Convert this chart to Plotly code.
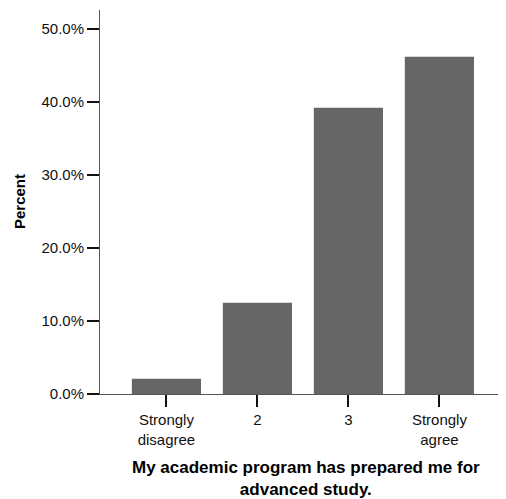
import plotly.graph_objects as go

categories = ["Strongly<br>disagree", "2", "3", "Strongly<br>agree"]
percent = [2.1, 12.5, 39.2, 46.2]
y_ticks = [0, 10, 20, 30, 40, 50]
y_tick_labels = ["0.0%", "10.0%", "20.0%", "30.0%", "40.0%", "50.0%"]
x_title = "My academic program has prepared me for<br>advanced study."
y_title = "Percent"

fig = go.Figure(go.Bar(
    x=categories, y=percent,
    marker=dict(color="#666666", line=dict(width=0)),
    width=0.76,
))

# page body has an 8px default margin, so the figure is offset by 8px
font = "Liberation Sans, Arial, sans-serif"
fig.update_layout(
    width=498, height=491,
    margin=dict(l=92, r=6, t=2, b=105),
    plot_bgcolor="white", paper_bgcolor="white",
    showlegend=False,
    font=dict(family=font, size=15, color="#111111"),
    xaxis=dict(
        type="category", range=[-0.73, 3.666],
        showline=True, linecolor="#555555", linewidth=1,
        ticks="outside", ticklen=12, tickwidth=2, tickcolor="#111111",
        showgrid=False, zeroline=False, automargin=False,
        tickfont=dict(size=15),
    ),
    yaxis=dict(
        range=[0, 52.6],
        tickvals=y_ticks, ticktext=y_tick_labels,
        showline=True, linecolor="#555555", linewidth=1,
        ticks="outside", ticklen=12, tickwidth=2, tickcolor="#111111",
        showgrid=False, zeroline=False, automargin=False,
        tickfont=dict(size=15),
    ),
    annotations=[
        dict(text="<b>" + x_title + "</b>", xref="paper", yref="paper",
             x=0.515, y=-0.219, xanchor="center", yanchor="middle",
             showarrow=False, font=dict(size=17, color="#000000")),
        dict(text="<b>" + y_title + "</b>", xref="paper", yref="paper",
             x=-0.2025, y=0.5, xanchor="center", yanchor="middle",
             textangle=-90, showarrow=False, font=dict(size=15, color="#000000")),
    ],
)

fig.write_html("out.html")
